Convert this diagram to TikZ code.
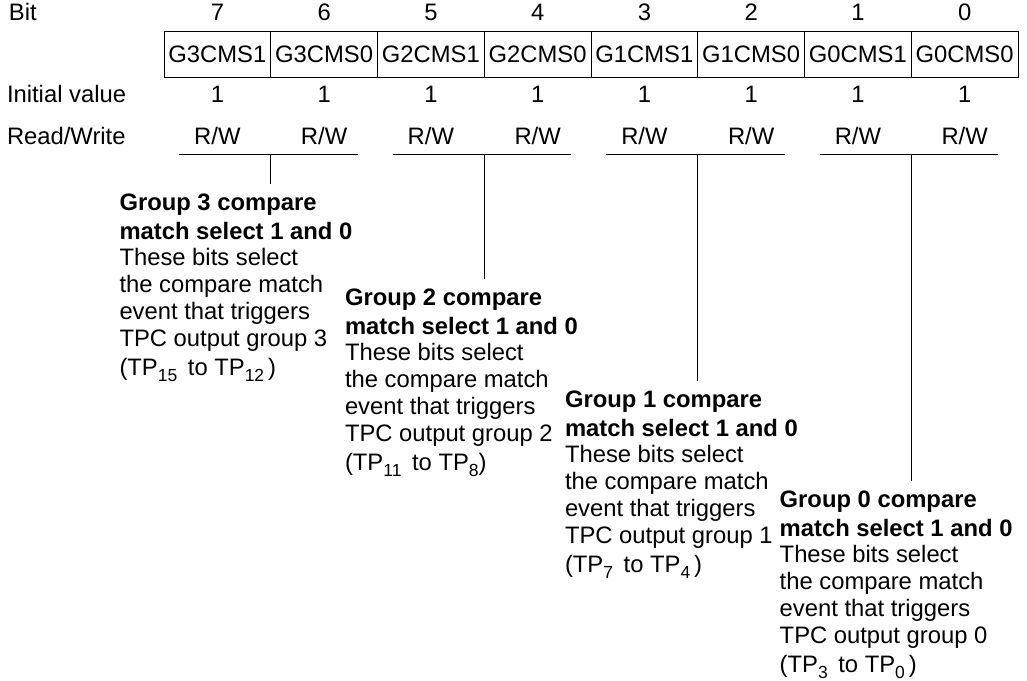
\documentclass[tikz,border=0pt]{standalone}
\usepackage{fontspec}
\setmainfont{Liberation Sans}
\newcommand{\tpsub}[1]{\raisebox{-6pt}{\fontsize{17.5}{17.5}\selectfont #1}}
\begin{document}
\begin{tikzpicture}[x=1pt,y=-1pt,
  every node/.style={inner sep=0pt,outer sep=0pt,font=\fontsize{23.8}{27}\selectfont},
  cell/.style={draw,line width=0.9pt,minimum width=106.75pt,minimum height=46pt,anchor=north west},
  lbl/.style={anchor=base west},
  val/.style={anchor=base},
  desc/.style={anchor=north west,align=left},
  link/.style={line width=0.9pt}]
\useasboundingbox (0,0) rectangle (1027,680);
% row labels
\node[lbl] (lbit) at (9,20.5) {Bit};
\node[lbl] (linit) at (7,102) {Initial value};
\node[lbl] (lrw) at (7,144) {Read/Write};
% register cells
\foreach \i/\b/\n in {0/7/G3CMS1,1/6/G3CMS0,2/5/G2CMS1,3/4/G2CMS0,4/3/G1CMS1,5/2/G1CMS0,6/1/G0CMS1,7/0/G0CMS0}{
  \node[cell] (c\b) at ({164+106.75*\i},31) {\n};
  \node[val] (n\b) at ({164+106.75*(\i+0.5)},20.5) {\b};
  \node[val] (iv\b) at ({164+106.75*(\i+0.5)},102) {1};
  \node[val] (rw\b) at ({164+106.75*(\i+0.5)},144) {R/W};
}
% description blocks
\node[desc] (g3) at (119.5,194.2) {\textbf{Group 3 compare}\\[2pt]\textbf{match select 1 and 0}\\[-1pt]These bits select\\the compare match\\event that triggers\\TPC output group 3\\[1.7pt](TP\tpsub{15}\ \,to TP\tpsub{12}\,)};
\node[desc] (g2) at (345,289.2) {\textbf{Group 2 compare}\\[2pt]\textbf{match select 1 and 0}\\[-1pt]These bits select\\the compare match\\event that triggers\\TPC output group 2\\[1.7pt](TP\tpsub{11}\ \,to TP\tpsub{8})};
\node[desc] (g1) at (565,390.8) {\textbf{Group 1 compare}\\[2pt]\textbf{match select 1 and 0}\\[-1pt]These bits select\\the compare match\\event that triggers\\TPC output group 1\\[1.7pt](TP\tpsub{7}\ \,to TP\tpsub{4}\,)};
\node[desc] (g0) at (779.7,490.8) {\textbf{Group 0 compare}\\[2pt]\textbf{match select 1 and 0}\\[-1pt]These bits select\\the compare match\\event that triggers\\TPC output group 0\\[1.7pt](TP\tpsub{3}\ \,to TP\tpsub{0}\,)};
% brackets and leaders
\foreach \k/\g in {0/3,1/2,2/1,3/0}{
  \coordinate (a\g) at ({164+213.5*\k+15},154);
  \coordinate (b\g) at ({164+213.5*\k+213.5-20},154);
  \coordinate (m\g) at ({164+213.5*\k+106.75},154);
  \draw[link] (a\g) -- (b\g);
  \draw[link] (m\g) -- ([yshift=10pt]g\g.north -| m\g);
}
\end{tikzpicture}
\end{document}
